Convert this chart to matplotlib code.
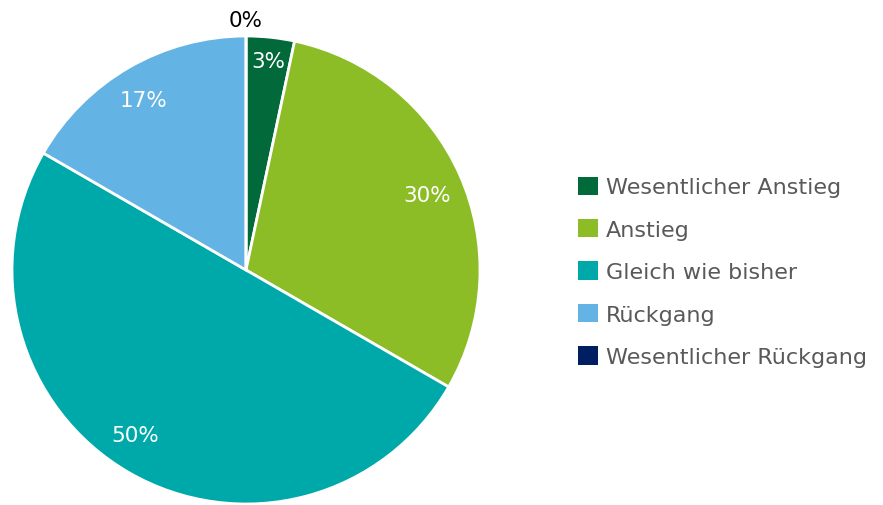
import numpy as np
import matplotlib
matplotlib.use("Agg")
import matplotlib.pyplot as plt
from matplotlib.patches import Patch

# data
categories = ["Wesentlicher Anstieg", "Anstieg", "Gleich wie bisher",
              "Rückgang", "Wesentlicher Rückgang"]
shares = [3.33, 30.0, 50.0, 16.67, 0.0]
colors = ["#026A3A", "#8CBD27", "#00A9A9", "#63B4E4", "#001F63"]

# where the percent labels sit (radius, angle nudge in degrees)
label_r = [0.9, 0.84, 0.85, 0.85, 1.07]
label_nudge = [0, -1.5, -4, 1, 0]

plt.rcParams['font.family'] = ['DejaVu Sans']

fig = plt.figure(figsize=(8.83, 5.06), dpi=100)
# square axes for the pie, centre ~ (246, 271) px, radius ~234 px
ax = fig.add_axes([12 / 883, 1 / 506, 468 / 883, 468 / 506])

wedges, _ = ax.pie(shares, colors=colors, startangle=90, counterclock=False,
                   wedgeprops=dict(edgecolor="white", linewidth=2))
ax.set_xlim(-1.0, 1.0)
ax.set_ylim(-1.0, 1.0)
ax.set_aspect("equal")

# percent labels
for w, v, r, dn in zip(wedges, shares, label_r, label_nudge):
    mid = np.deg2rad((w.theta1 + w.theta2) / 2 + dn)
    txt = "%d%%" % round(v)
    col = "black" if v < 1 else "white"
    ax.text(r * np.cos(mid), r * np.sin(mid), txt, ha="center", va="center",
            color=col, fontsize=15.5)

handles = [Patch(facecolor=c, edgecolor="none") for c in colors]
leg = fig.legend(handles, categories, loc="upper left",
                 bbox_to_anchor=(578 / 883, 1 - 177.5 / 506),
                 frameon=False, fontsize=16, handlelength=0.9, handleheight=0.9,
                 handletextpad=0.35, labelspacing=0.97, borderpad=0,
                 borderaxespad=0)
for t in leg.get_texts():
    t.set_color("#595959")

fig.savefig("out.png", dpi=100)
